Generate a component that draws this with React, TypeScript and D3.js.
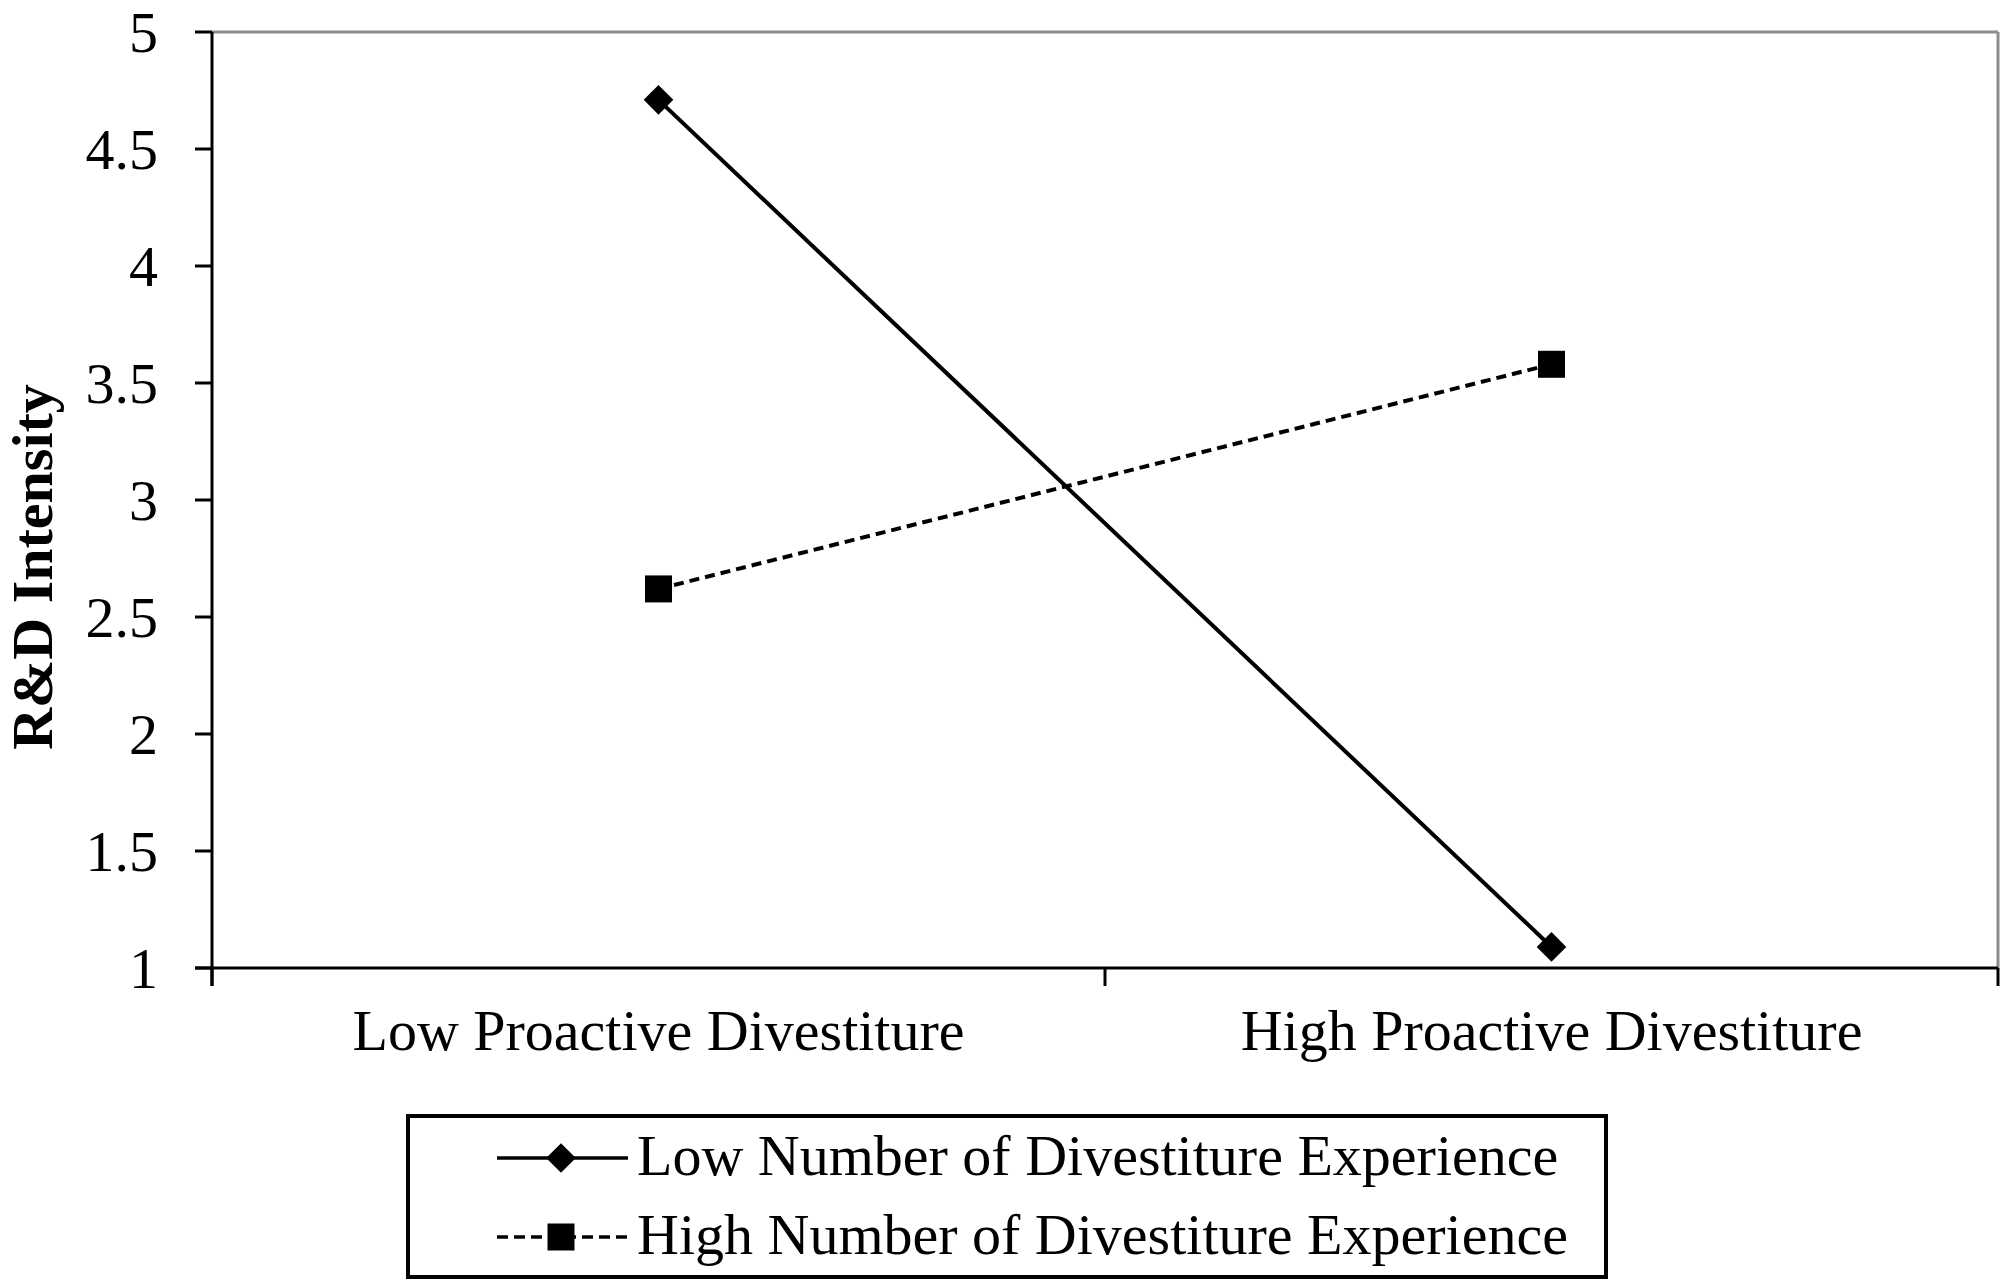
import * as d3 from "d3";

const categories = ["Low Proactive Divestiture", "High Proactive Divestiture"];
const lowExperience = [4.71, 1.09];
const highExperience = [2.62, 3.58];
const yTicks = [1, 1.5, 2, 2.5, 3, 3.5, 4, 4.5, 5];
const seriesNames = [
  "Low Number of Divestiture Experience",
  "High Number of Divestiture Experience",
];

const W = 2010;
const H = 1286;
const left = 212;
const right = 1998;
const top = 32;
const bottom = 968;
const font = "'Liberation Serif', 'Times New Roman', serif";

const App = () => {
  const x = d3.scaleBand().domain(categories).range([left, right]).padding(0);
  const y = d3.scaleLinear().domain([1, 5]).range([bottom, top]);
  const cx = (c: string) => (x(c) ?? 0) + x.bandwidth() / 2;

  const line = d3
    .line<number>()
    .x((_, i) => cx(categories[i]))
    .y((d) => y(d));

  const diamond = d3.symbol().type(d3.symbolDiamond2).size(560)();
  const square = d3.symbol().type(d3.symbolSquare).size(729)();

  const xTicks = [left, ...categories.map((c) => (x(c) ?? 0) + x.bandwidth())];

  return (
    <div style={{ position: "absolute", left: 0, top: 0 }}>
      <svg width={W} height={H} style={{ display: "block", background: "#fff" }}>
        {/* plot frame: gray top/right, black axes */}
        <line x1={left} x2={right} y1={top} y2={top} stroke="#8c8c8c" strokeWidth={3} />
        <line x1={right} x2={right} y1={top} y2={bottom} stroke="#8c8c8c" strokeWidth={3} />
        <line x1={left} x2={left} y1={top} y2={bottom + 18} stroke="#000" strokeWidth={3} />
        <line x1={left - 17} x2={right} y1={bottom} y2={bottom} stroke="#000" strokeWidth={3} />

        {/* y ticks */}
        {yTicks.map((t) => (
          <g key={t}>
            <line x1={left - 17} x2={left} y1={y(t)} y2={y(t)} stroke="#000" strokeWidth={3} />
            <text
              x={158}
              y={y(t)}
              dy="0.34em"
              textAnchor="end"
              fontFamily={font}
              fontSize={58}
            >
              {t}
            </text>
          </g>
        ))}

        {/* x ticks */}
        {xTicks.map((t, i) => (
          <line key={i} x1={t} x2={t} y1={bottom} y2={bottom + 18} stroke="#000" strokeWidth={3} />
        ))}
        {categories.map((c) => (
          <text key={c} x={cx(c)} y={1050} textAnchor="middle" fontFamily={font} fontSize={58}>
            {c}
          </text>
        ))}

        {/* y title */}
        <text
          transform={`translate(52, ${567}) rotate(-90)`}
          textAnchor="middle"
          fontFamily={font}
          fontSize={58}
          fontWeight="bold"
        >
          R&amp;D Intensity
        </text>

        {/* series */}
        <path d={line(lowExperience) ?? ""} fill="none" stroke="#000" strokeWidth={4} />
        <path
          d={line(highExperience) ?? ""}
          fill="none"
          stroke="#000"
          strokeWidth={4}
          strokeDasharray="10 6"
        />
        {lowExperience.map((v, i) => (
          <path key={i} d={diamond ?? ""} transform={`translate(${cx(categories[i])},${y(v)})`} fill="#000" />
        ))}
        {highExperience.map((v, i) => (
          <path key={i} d={square ?? ""} transform={`translate(${cx(categories[i])},${y(v)})`} fill="#000" />
        ))}

        {/* legend */}
        <rect x={408} y={1116} width={1198} height={161} fill="none" stroke="#000" strokeWidth={4} />
        {seriesNames.map((name, i) => {
          const ly = 1158 + i * 79;
          return (
            <g key={name}>
              <line
                x1={497}
                x2={628}
                y1={ly}
                y2={ly}
                stroke="#000"
                strokeWidth={3.5}
                strokeDasharray={i === 1 ? "11 6" : undefined}
              />
              <path d={(i === 0 ? diamond : square) ?? ""} transform={`translate(561,${ly})`} fill="#000" />
              <text x={637} y={ly} dy="0.3em" fontFamily={font} fontSize={58}>
                {name}
              </text>
            </g>
          );
        })}
      </svg>
    </div>
  );
};

export default App;
